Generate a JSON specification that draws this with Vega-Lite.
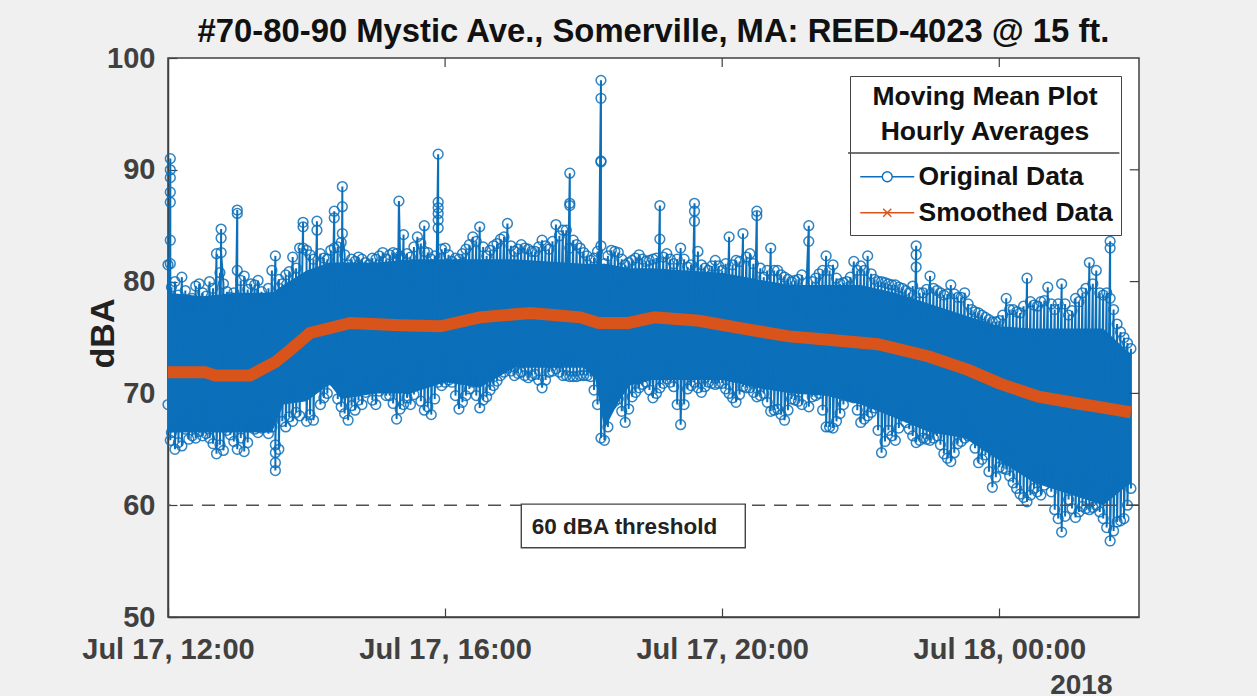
{"$schema":"https://vega.github.io/schema/vega-lite/v6.json","width":971,"height":559,"autosize":{"type":"none"},"padding":{"left":168,"top":58,"right":118,"bottom":79},"background":"#f0f0f0","view":{"fill":"white","stroke":"#404040","strokeWidth":1.5},
"title":{"text":"#70-80-90 Mystic Ave., Somerville, MA: REED-4023 @ 15 ft.","font":"Liberation Sans","fontSize":32.8,"fontWeight":"bold","color":"#111111","anchor":"middle","offset":-5},
"datasets":{
"core":[{"t":"2018-07-17T12:00","lo":66.5,"hi":79},{"t":"2018-07-17T12:30","lo":66.5,"hi":78.7},{"t":"2018-07-17T13:00","lo":66.5,"hi":79},{"t":"2018-07-17T13:30","lo":66.5,"hi":79},{"t":"2018-07-17T13:40","lo":69,"hi":79.7},{"t":"2018-07-17T14:00","lo":69.3,"hi":81},{"t":"2018-07-17T14:20","lo":70.8,"hi":81.7},{"t":"2018-07-17T14:30","lo":69.5,"hi":81.7},{"t":"2018-07-17T15:00","lo":70,"hi":81.7},{"t":"2018-07-17T15:30","lo":70,"hi":82},{"t":"2018-07-17T16:00","lo":71,"hi":82},{"t":"2018-07-17T16:30","lo":70.5,"hi":82},{"t":"2018-07-17T17:00","lo":72.3,"hi":82},{"t":"2018-07-17T18:00","lo":72.3,"hi":81.6},{"t":"2018-07-17T18:10","lo":71.3,"hi":81.6},{"t":"2018-07-17T18:18","lo":66.8,"hi":81.6},{"t":"2018-07-17T18:30","lo":69.2,"hi":81.4},{"t":"2018-07-17T18:40","lo":70.7,"hi":81.2},{"t":"2018-07-17T19:00","lo":71.2,"hi":81.2},{"t":"2018-07-17T20:00","lo":71.2,"hi":80.8},{"t":"2018-07-17T20:30","lo":70.5,"hi":80.2},{"t":"2018-07-17T21:00","lo":70,"hi":79.7},{"t":"2018-07-17T21:30","lo":69.8,"hi":79.7},{"t":"2018-07-17T22:00","lo":69,"hi":79.7},{"t":"2018-07-17T22:30","lo":67.8,"hi":79},{"t":"2018-07-17T23:00","lo":66.5,"hi":78},{"t":"2018-07-17T23:30","lo":66,"hi":77},{"t":"2018-07-18T00:00","lo":64,"hi":76},{"t":"2018-07-18T00:30","lo":62,"hi":75.8},{"t":"2018-07-18T01:00","lo":61,"hi":75.8},{"t":"2018-07-18T01:30","lo":60,"hi":75.8},{"t":"2018-07-18T01:54","lo":62,"hi":73.5}],
"orig":[{"t":"2018-07-17T12:00","v":81.5},{"t":"2018-07-17T12:00","v":69},{"t":"2018-07-17T12:02","v":91},{"t":"2018-07-17T12:02","v":90},{"t":"2018-07-17T12:02","v":89.3},{"t":"2018-07-17T12:02","v":88},{"t":"2018-07-17T12:02","v":87.1},{"t":"2018-07-17T12:02","v":83.7},{"t":"2018-07-17T12:02","v":81.6},{"t":"2018-07-17T12:02","v":65.8},{"t":"2018-07-17T12:06","v":80},{"t":"2018-07-17T12:06","v":65},{"t":"2018-07-17T12:12","v":80.4},{"t":"2018-07-17T12:12","v":65.3},{"t":"2018-07-17T12:18","v":78},{"t":"2018-07-17T12:18","v":65.9},{"t":"2018-07-17T12:24","v":79.6},{"t":"2018-07-17T12:24","v":66},{"t":"2018-07-17T12:30","v":79},{"t":"2018-07-17T12:30","v":66.2},{"t":"2018-07-17T12:36","v":80},{"t":"2018-07-17T12:36","v":66},{"t":"2018-07-17T12:42","v":82.5},{"t":"2018-07-17T12:42","v":64.6},{"t":"2018-07-17T12:46","v":84.7},{"t":"2018-07-17T12:46","v":83.9},{"t":"2018-07-17T12:46","v":82.6},{"t":"2018-07-17T12:48","v":79.8},{"t":"2018-07-17T12:48","v":64.9},{"t":"2018-07-17T12:54","v":78.6},{"t":"2018-07-17T12:54","v":66.3},{"t":"2018-07-17T13:00","v":86.4},{"t":"2018-07-17T13:00","v":86.1},{"t":"2018-07-17T13:00","v":81},{"t":"2018-07-17T13:00","v":65},{"t":"2018-07-17T13:06","v":80.5},{"t":"2018-07-17T13:06","v":64.8},{"t":"2018-07-17T13:12","v":79.8},{"t":"2018-07-17T13:12","v":67},{"t":"2018-07-17T13:18","v":80.1},{"t":"2018-07-17T13:18","v":66.5},{"t":"2018-07-17T13:24","v":78.5},{"t":"2018-07-17T13:24","v":67},{"t":"2018-07-17T13:30","v":81},{"t":"2018-07-17T13:30","v":67},{"t":"2018-07-17T13:33","v":82.3},{"t":"2018-07-17T13:33","v":63.1},{"t":"2018-07-17T13:33","v":63.8},{"t":"2018-07-17T13:33","v":64.7},{"t":"2018-07-17T13:33","v":65.4},{"t":"2018-07-17T13:36","v":80.2},{"t":"2018-07-17T13:36","v":65},{"t":"2018-07-17T13:42","v":80.6},{"t":"2018-07-17T13:42","v":67},{"t":"2018-07-17T13:48","v":82.2},{"t":"2018-07-17T13:48","v":67.5},{"t":"2018-07-17T13:54","v":83},{"t":"2018-07-17T13:54","v":68},{"t":"2018-07-17T13:57","v":85.3},{"t":"2018-07-17T13:57","v":84.9},{"t":"2018-07-17T13:57","v":83},{"t":"2018-07-17T14:00","v":82.8},{"t":"2018-07-17T14:00","v":67.5},{"t":"2018-07-17T14:06","v":82},{"t":"2018-07-17T14:06","v":67.6},{"t":"2018-07-17T14:09","v":85.4},{"t":"2018-07-17T14:09","v":84.6},{"t":"2018-07-17T14:09","v":71},{"t":"2018-07-17T14:12","v":82.5},{"t":"2018-07-17T14:12","v":69},{"t":"2018-07-17T14:18","v":82},{"t":"2018-07-17T14:18","v":70},{"t":"2018-07-17T14:24","v":86.3},{"t":"2018-07-17T14:24","v":85.7},{"t":"2018-07-17T14:24","v":83},{"t":"2018-07-17T14:24","v":71.5},{"t":"2018-07-17T14:30","v":83.5},{"t":"2018-07-17T14:30","v":68.8},{"t":"2018-07-17T14:31","v":88.5},{"t":"2018-07-17T14:31","v":86.7},{"t":"2018-07-17T14:31","v":84.3},{"t":"2018-07-17T14:36","v":81.5},{"t":"2018-07-17T14:36","v":67.6},{"t":"2018-07-17T14:42","v":81.8},{"t":"2018-07-17T14:42","v":68.5},{"t":"2018-07-17T14:48","v":82},{"t":"2018-07-17T14:48","v":69},{"t":"2018-07-17T14:54","v":81.5},{"t":"2018-07-17T14:54","v":70.5},{"t":"2018-07-17T15:00","v":82},{"t":"2018-07-17T15:00","v":69},{"t":"2018-07-17T15:06","v":82.6},{"t":"2018-07-17T15:06","v":70.8},{"t":"2018-07-17T15:12","v":82.4},{"t":"2018-07-17T15:12","v":69.8},{"t":"2018-07-17T15:18","v":82.5},{"t":"2018-07-17T15:18","v":67.7},{"t":"2018-07-17T15:20","v":87.2},{"t":"2018-07-17T15:24","v":84.2},{"t":"2018-07-17T15:24","v":69},{"t":"2018-07-17T15:30","v":82.2},{"t":"2018-07-17T15:30","v":69},{"t":"2018-07-17T15:36","v":84},{"t":"2018-07-17T15:36","v":70.8},{"t":"2018-07-17T15:42","v":85},{"t":"2018-07-17T15:42","v":82.7},{"t":"2018-07-17T15:42","v":68.5},{"t":"2018-07-17T15:48","v":82},{"t":"2018-07-17T15:48","v":68.1},{"t":"2018-07-17T15:54","v":91.4},{"t":"2018-07-17T15:54","v":87.1},{"t":"2018-07-17T15:54","v":86.6},{"t":"2018-07-17T15:54","v":86.1},{"t":"2018-07-17T15:54","v":85.5},{"t":"2018-07-17T15:54","v":84.8},{"t":"2018-07-17T15:54","v":71},{"t":"2018-07-17T16:00","v":83},{"t":"2018-07-17T16:00","v":71},{"t":"2018-07-17T16:06","v":81.8},{"t":"2018-07-17T16:06","v":71},{"t":"2018-07-17T16:12","v":82},{"t":"2018-07-17T16:12","v":68.6},{"t":"2018-07-17T16:18","v":82.9},{"t":"2018-07-17T16:18","v":69.8},{"t":"2018-07-17T16:24","v":84},{"t":"2018-07-17T16:24","v":71},{"t":"2018-07-17T16:30","v":84.9},{"t":"2018-07-17T16:30","v":68.7},{"t":"2018-07-17T16:36","v":82.3},{"t":"2018-07-17T16:36","v":69.7},{"t":"2018-07-17T16:42","v":83.2},{"t":"2018-07-17T16:42","v":70.7},{"t":"2018-07-17T16:48","v":83.8},{"t":"2018-07-17T16:48","v":71.6},{"t":"2018-07-17T16:54","v":85.2},{"t":"2018-07-17T16:54","v":72.3},{"t":"2018-07-17T17:00","v":82.7},{"t":"2018-07-17T17:00","v":71.6},{"t":"2018-07-17T17:06","v":83.3},{"t":"2018-07-17T17:06","v":71.9},{"t":"2018-07-17T17:12","v":82.9},{"t":"2018-07-17T17:12","v":71.4},{"t":"2018-07-17T17:18","v":82.7},{"t":"2018-07-17T17:18","v":71.7},{"t":"2018-07-17T17:24","v":83.7},{"t":"2018-07-17T17:24","v":70.5},{"t":"2018-07-17T17:30","v":82.9},{"t":"2018-07-17T17:30","v":71.9},{"t":"2018-07-17T17:36","v":85.1},{"t":"2018-07-17T17:36","v":72.2},{"t":"2018-07-17T17:42","v":84.6},{"t":"2018-07-17T17:42","v":71.6},{"t":"2018-07-17T17:48","v":89.7},{"t":"2018-07-17T17:48","v":87},{"t":"2018-07-17T17:48","v":86.8},{"t":"2018-07-17T17:48","v":83},{"t":"2018-07-17T17:48","v":71.5},{"t":"2018-07-17T17:54","v":83.3},{"t":"2018-07-17T17:54","v":71.5},{"t":"2018-07-17T18:00","v":82.6},{"t":"2018-07-17T18:00","v":71.6},{"t":"2018-07-17T18:06","v":81.9},{"t":"2018-07-17T18:06","v":71.5},{"t":"2018-07-17T18:12","v":82.7},{"t":"2018-07-17T18:12","v":69},{"t":"2018-07-17T18:15","v":98},{"t":"2018-07-17T18:15","v":96.4},{"t":"2018-07-17T18:15","v":90.8},{"t":"2018-07-17T18:15","v":90.7},{"t":"2018-07-17T18:15","v":83.2},{"t":"2018-07-17T18:15","v":66},{"t":"2018-07-17T18:18","v":81.6},{"t":"2018-07-17T18:18","v":65.8},{"t":"2018-07-17T18:24","v":82.8},{"t":"2018-07-17T18:24","v":69},{"t":"2018-07-17T18:30","v":82.6},{"t":"2018-07-17T18:30","v":69.5},{"t":"2018-07-17T18:36","v":81.5},{"t":"2018-07-17T18:36","v":67.4},{"t":"2018-07-17T18:42","v":81.9},{"t":"2018-07-17T18:42","v":69.7},{"t":"2018-07-17T18:48","v":82.4},{"t":"2018-07-17T18:48","v":70.5},{"t":"2018-07-17T18:54","v":81.8},{"t":"2018-07-17T18:54","v":71},{"t":"2018-07-17T19:00","v":82},{"t":"2018-07-17T19:00","v":69.6},{"t":"2018-07-17T19:06","v":86.8},{"t":"2018-07-17T19:06","v":83.8},{"t":"2018-07-17T19:06","v":70.5},{"t":"2018-07-17T19:12","v":82.5},{"t":"2018-07-17T19:12","v":71.3},{"t":"2018-07-17T19:18","v":81.6},{"t":"2018-07-17T19:18","v":70.6},{"t":"2018-07-17T19:24","v":83},{"t":"2018-07-17T19:24","v":67.2},{"t":"2018-07-17T19:30","v":81.3},{"t":"2018-07-17T19:30","v":70.4},{"t":"2018-07-17T19:36","v":87},{"t":"2018-07-17T19:36","v":86.3},{"t":"2018-07-17T19:36","v":85.4},{"t":"2018-07-17T19:36","v":71},{"t":"2018-07-17T19:42","v":81.5},{"t":"2018-07-17T19:42","v":70.1},{"t":"2018-07-17T19:48","v":81},{"t":"2018-07-17T19:48","v":71},{"t":"2018-07-17T19:54","v":81.9},{"t":"2018-07-17T19:54","v":70.8},{"t":"2018-07-17T20:00","v":81},{"t":"2018-07-17T20:00","v":70.9},{"t":"2018-07-17T20:06","v":84},{"t":"2018-07-17T20:06","v":70},{"t":"2018-07-17T20:12","v":81.9},{"t":"2018-07-17T20:12","v":69.2},{"t":"2018-07-17T20:18","v":84.3},{"t":"2018-07-17T20:18","v":70.6},{"t":"2018-07-17T20:24","v":82.5},{"t":"2018-07-17T20:24","v":70.5},{"t":"2018-07-17T20:30","v":86.3},{"t":"2018-07-17T20:30","v":85.9},{"t":"2018-07-17T20:30","v":69.7},{"t":"2018-07-17T20:36","v":80.4},{"t":"2018-07-17T20:36","v":70},{"t":"2018-07-17T20:42","v":83},{"t":"2018-07-17T20:42","v":68.4},{"t":"2018-07-17T20:48","v":81},{"t":"2018-07-17T20:48","v":68.6},{"t":"2018-07-17T20:54","v":80.4},{"t":"2018-07-17T20:54","v":67.6},{"t":"2018-07-17T21:00","v":80},{"t":"2018-07-17T21:00","v":69.5},{"t":"2018-07-17T21:06","v":80.2},{"t":"2018-07-17T21:06","v":69.3},{"t":"2018-07-17T21:15","v":85},{"t":"2018-07-17T21:15","v":83.6},{"t":"2018-07-17T21:15","v":68.8},{"t":"2018-07-17T21:18","v":80},{"t":"2018-07-17T21:18","v":69.7},{"t":"2018-07-17T21:24","v":80.7},{"t":"2018-07-17T21:24","v":70},{"t":"2018-07-17T21:30","v":82.3},{"t":"2018-07-17T21:30","v":67},{"t":"2018-07-17T21:36","v":81.5},{"t":"2018-07-17T21:36","v":66.9},{"t":"2018-07-17T21:42","v":79.8},{"t":"2018-07-17T21:42","v":68.2},{"t":"2018-07-17T21:48","v":80},{"t":"2018-07-17T21:48","v":69.9},{"t":"2018-07-17T21:54","v":81.8},{"t":"2018-07-17T21:54","v":69.6},{"t":"2018-07-17T22:00","v":81.4},{"t":"2018-07-17T22:00","v":67.4},{"t":"2018-07-17T22:06","v":82.3},{"t":"2018-07-17T22:06","v":68},{"t":"2018-07-17T22:12","v":80.2},{"t":"2018-07-17T22:12","v":68.7},{"t":"2018-07-17T22:18","v":80},{"t":"2018-07-17T22:18","v":64.7},{"t":"2018-07-17T22:24","v":79.8},{"t":"2018-07-17T22:24","v":66.7},{"t":"2018-07-17T22:30","v":79.7},{"t":"2018-07-17T22:30","v":65.8},{"t":"2018-07-17T22:36","v":79.4},{"t":"2018-07-17T22:36","v":68},{"t":"2018-07-17T22:42","v":79},{"t":"2018-07-17T22:42","v":66.8},{"t":"2018-07-17T22:48","v":83.2},{"t":"2018-07-17T22:48","v":82.4},{"t":"2018-07-17T22:48","v":81.3},{"t":"2018-07-17T22:48","v":65.6},{"t":"2018-07-17T22:54","v":79},{"t":"2018-07-17T22:54","v":66},{"t":"2018-07-17T23:00","v":80.5},{"t":"2018-07-17T23:00","v":65.8},{"t":"2018-07-17T23:06","v":79.2},{"t":"2018-07-17T23:06","v":66.2},{"t":"2018-07-17T23:12","v":78.8},{"t":"2018-07-17T23:12","v":64.6},{"t":"2018-07-17T23:18","v":79.7},{"t":"2018-07-17T23:18","v":63.9},{"t":"2018-07-17T23:24","v":78.6},{"t":"2018-07-17T23:24","v":65.5},{"t":"2018-07-17T23:30","v":79},{"t":"2018-07-17T23:30","v":66},{"t":"2018-07-17T23:36","v":77.5},{"t":"2018-07-17T23:36","v":66.5},{"t":"2018-07-17T23:42","v":77.2},{"t":"2018-07-17T23:42","v":63.8},{"t":"2018-07-17T23:48","v":76.8},{"t":"2018-07-17T23:48","v":64.5},{"t":"2018-07-17T23:54","v":76.4},{"t":"2018-07-17T23:54","v":61.6},{"t":"2018-07-18T00:00","v":76.5},{"t":"2018-07-18T00:00","v":63.4},{"t":"2018-07-18T00:06","v":78.5},{"t":"2018-07-18T00:06","v":63.2},{"t":"2018-07-18T00:12","v":77.5},{"t":"2018-07-18T00:12","v":62},{"t":"2018-07-18T00:18","v":77.2},{"t":"2018-07-18T00:18","v":61},{"t":"2018-07-18T00:24","v":80.3},{"t":"2018-07-18T00:24","v":60.3},{"t":"2018-07-18T00:30","v":77.9},{"t":"2018-07-18T00:30","v":61.5},{"t":"2018-07-18T00:36","v":78.2},{"t":"2018-07-18T00:36","v":60.9},{"t":"2018-07-18T00:42","v":79.5},{"t":"2018-07-18T00:42","v":62.8},{"t":"2018-07-18T00:48","v":77.5},{"t":"2018-07-18T00:48","v":59.6},{"t":"2018-07-18T00:54","v":79.8},{"t":"2018-07-18T00:54","v":57.6},{"t":"2018-07-18T01:00","v":77},{"t":"2018-07-18T01:00","v":60.5},{"t":"2018-07-18T01:06","v":78.5},{"t":"2018-07-18T01:06","v":58.9},{"t":"2018-07-18T01:12","v":79},{"t":"2018-07-18T01:12","v":59.9},{"t":"2018-07-18T01:18","v":81.7},{"t":"2018-07-18T01:18","v":59.6},{"t":"2018-07-18T01:24","v":81},{"t":"2018-07-18T01:24","v":60},{"t":"2018-07-18T01:30","v":78.8},{"t":"2018-07-18T01:30","v":58.8},{"t":"2018-07-18T01:36","v":83.6},{"t":"2018-07-18T01:36","v":83},{"t":"2018-07-18T01:36","v":78.5},{"t":"2018-07-18T01:36","v":56.8},{"t":"2018-07-18T01:42","v":76.2},{"t":"2018-07-18T01:42","v":58.5},{"t":"2018-07-18T01:48","v":75},{"t":"2018-07-18T01:48","v":58.8},{"t":"2018-07-18T01:54","v":74},{"t":"2018-07-18T01:54","v":61.5},
{"t":"2018-07-17T12:03","v":79.5},{"t":"2018-07-17T12:03","v":66.5},{"t":"2018-07-17T12:09","v":78.8},{"t":"2018-07-17T12:09","v":65.6},{"t":"2018-07-17T12:15","v":79.2},{"t":"2018-07-17T12:15","v":66.8},{"t":"2018-07-17T12:21","v":78.5},{"t":"2018-07-17T12:21","v":66.2},{"t":"2018-07-17T12:27","v":79.8},{"t":"2018-07-17T12:27","v":66.6},{"t":"2018-07-17T12:33","v":78.7},{"t":"2018-07-17T12:33","v":66.4},{"t":"2018-07-17T12:39","v":79.4},{"t":"2018-07-17T12:39","v":65.5},{"t":"2018-07-17T12:45","v":80.8},{"t":"2018-07-17T12:45","v":65.4},{"t":"2018-07-17T12:51","v":79.1},{"t":"2018-07-17T12:51","v":66.7},{"t":"2018-07-17T12:57","v":79},{"t":"2018-07-17T12:57","v":65.7},{"t":"2018-07-17T13:03","v":80.1},{"t":"2018-07-17T13:03","v":66},{"t":"2018-07-17T13:09","v":79.3},{"t":"2018-07-17T13:09","v":65.6},{"t":"2018-07-17T13:15","v":79.7},{"t":"2018-07-17T13:15","v":66.8},{"t":"2018-07-17T13:21","v":79.1},{"t":"2018-07-17T13:21","v":66.9},{"t":"2018-07-17T13:27","v":79.4},{"t":"2018-07-17T13:27","v":66.4},{"t":"2018-07-17T13:39","v":79.8},{"t":"2018-07-17T13:39","v":67.5},{"t":"2018-07-17T13:45","v":80.9},{"t":"2018-07-17T13:45","v":67.9},{"t":"2018-07-17T13:51","v":81.2},{"t":"2018-07-17T13:51","v":68.3},{"t":"2018-07-17T14:03","v":82.4},{"t":"2018-07-17T14:03","v":68.1},{"t":"2018-07-17T14:15","v":82.1},{"t":"2018-07-17T14:15","v":69.6},{"t":"2018-07-17T14:21","v":82.8},{"t":"2018-07-17T14:21","v":71.2},{"t":"2018-07-17T14:27","v":83.1},{"t":"2018-07-17T14:27","v":69.5},{"t":"2018-07-17T14:33","v":82.4},{"t":"2018-07-17T14:33","v":68.2},{"t":"2018-07-17T14:39","v":82},{"t":"2018-07-17T14:39","v":68.9},{"t":"2018-07-17T14:45","v":82.2},{"t":"2018-07-17T14:45","v":69.4},{"t":"2018-07-17T14:51","v":81.7},{"t":"2018-07-17T14:51","v":70.1},{"t":"2018-07-17T14:57","v":82.1},{"t":"2018-07-17T14:57","v":69.4},{"t":"2018-07-17T15:03","v":82.3},{"t":"2018-07-17T15:03","v":70.2},{"t":"2018-07-17T15:09","v":82},{"t":"2018-07-17T15:09","v":69.8},{"t":"2018-07-17T15:15","v":82.6},{"t":"2018-07-17T15:15","v":69.1},{"t":"2018-07-17T15:21","v":82.3},{"t":"2018-07-17T15:21","v":68.6},{"t":"2018-07-17T15:27","v":82.5},{"t":"2018-07-17T15:27","v":69.6},{"t":"2018-07-17T15:33","v":83.1},{"t":"2018-07-17T15:33","v":69.9},{"t":"2018-07-17T15:39","v":83.4},{"t":"2018-07-17T15:39","v":69.3},{"t":"2018-07-17T15:45","v":82.6},{"t":"2018-07-17T15:45","v":68.8},{"t":"2018-07-17T15:51","v":82.3},{"t":"2018-07-17T15:51","v":69.5},{"t":"2018-07-17T15:57","v":82.9},{"t":"2018-07-17T15:57","v":70.7},{"t":"2018-07-17T16:03","v":82.4},{"t":"2018-07-17T16:03","v":71.2},{"t":"2018-07-17T16:09","v":82.1},{"t":"2018-07-17T16:09","v":69.8},{"t":"2018-07-17T16:15","v":82.5},{"t":"2018-07-17T16:15","v":69.2},{"t":"2018-07-17T16:21","v":83.3},{"t":"2018-07-17T16:21","v":70.4},{"t":"2018-07-17T16:27","v":83.6},{"t":"2018-07-17T16:27","v":69.8},{"t":"2018-07-17T16:33","v":83.1},{"t":"2018-07-17T16:33","v":69.4},{"t":"2018-07-17T16:39","v":82.8},{"t":"2018-07-17T16:39","v":70.3},{"t":"2018-07-17T16:45","v":83.4},{"t":"2018-07-17T16:45","v":71.1},{"t":"2018-07-17T16:51","v":84},{"t":"2018-07-17T16:51","v":71.9},{"t":"2018-07-17T16:57","v":83.2},{"t":"2018-07-17T16:57","v":72},{"t":"2018-07-17T17:03","v":82.9},{"t":"2018-07-17T17:03","v":71.8},{"t":"2018-07-17T17:09","v":83},{"t":"2018-07-17T17:09","v":71.6},{"t":"2018-07-17T17:15","v":82.7},{"t":"2018-07-17T17:15","v":71.6},{"t":"2018-07-17T17:21","v":83.1},{"t":"2018-07-17T17:21","v":71.2},{"t":"2018-07-17T17:27","v":83.2},{"t":"2018-07-17T17:27","v":71.2},{"t":"2018-07-17T17:33","v":83.6},{"t":"2018-07-17T17:33","v":72},{"t":"2018-07-17T17:39","v":84.1},{"t":"2018-07-17T17:39","v":71.9},{"t":"2018-07-17T17:45","v":84.6},{"t":"2018-07-17T17:45","v":71.6},{"t":"2018-07-17T17:51","v":83.7},{"t":"2018-07-17T17:51","v":71.5},{"t":"2018-07-17T17:57","v":83},{"t":"2018-07-17T17:57","v":71.6},{"t":"2018-07-17T18:03","v":82.3},{"t":"2018-07-17T18:03","v":71.6},{"t":"2018-07-17T18:09","v":82.1},{"t":"2018-07-17T18:09","v":70.3},{"t":"2018-07-17T18:21","v":82.3},{"t":"2018-07-17T18:21","v":67},{"t":"2018-07-17T18:27","v":82.7},{"t":"2018-07-17T18:27","v":69.3},{"t":"2018-07-17T18:33","v":82},{"t":"2018-07-17T18:33","v":68.4},{"t":"2018-07-17T18:39","v":81.7},{"t":"2018-07-17T18:39","v":68.6},{"t":"2018-07-17T18:45","v":82.1},{"t":"2018-07-17T18:45","v":70.1},{"t":"2018-07-17T18:51","v":82},{"t":"2018-07-17T18:51","v":70.8},{"t":"2018-07-17T18:57","v":81.9},{"t":"2018-07-17T18:57","v":70.3},{"t":"2018-07-17T19:03","v":82.1},{"t":"2018-07-17T19:03","v":70},{"t":"2018-07-17T19:09","v":82.2},{"t":"2018-07-17T19:09","v":70.9},{"t":"2018-07-17T19:15","v":82},{"t":"2018-07-17T19:15","v":71},{"t":"2018-07-17T19:21","v":82},{"t":"2018-07-17T19:21","v":69},{"t":"2018-07-17T19:27","v":82},{"t":"2018-07-17T19:27","v":69},{"t":"2018-07-17T19:33","v":81.5},{"t":"2018-07-17T19:33","v":70.7},{"t":"2018-07-17T19:39","v":82.7},{"t":"2018-07-17T19:39","v":70.5},{"t":"2018-07-17T19:45","v":81.2},{"t":"2018-07-17T19:45","v":70.6},{"t":"2018-07-17T19:51","v":81.4},{"t":"2018-07-17T19:51","v":70.9},{"t":"2018-07-17T19:57","v":81.4},{"t":"2018-07-17T19:57","v":70.9},{"t":"2018-07-17T20:03","v":81.6},{"t":"2018-07-17T20:03","v":70.4},{"t":"2018-07-17T20:09","v":81.5},{"t":"2018-07-17T20:09","v":69.6},{"t":"2018-07-17T20:15","v":81.8},{"t":"2018-07-17T20:15","v":69.9},{"t":"2018-07-17T20:21","v":82.2},{"t":"2018-07-17T20:21","v":70.5},{"t":"2018-07-17T20:27","v":81.6},{"t":"2018-07-17T20:27","v":70.1},{"t":"2018-07-17T20:33","v":81.2},{"t":"2018-07-17T20:33","v":69.8},{"t":"2018-07-17T20:39","v":81},{"t":"2018-07-17T20:39","v":69.2},{"t":"2018-07-17T20:45","v":81},{"t":"2018-07-17T20:45","v":68.5},{"t":"2018-07-17T20:51","v":80.6},{"t":"2018-07-17T20:51","v":68.1},{"t":"2018-07-17T20:57","v":80.2},{"t":"2018-07-17T20:57","v":68.5},{"t":"2018-07-17T21:03","v":80.1},{"t":"2018-07-17T21:03","v":69.4},{"t":"2018-07-17T21:09","v":80.6},{"t":"2018-07-17T21:09","v":69},{"t":"2018-07-17T21:21","v":80.3},{"t":"2018-07-17T21:21","v":69.8},{"t":"2018-07-17T21:27","v":81},{"t":"2018-07-17T21:27","v":68.5},{"t":"2018-07-17T21:33","v":81},{"t":"2018-07-17T21:33","v":67},{"t":"2018-07-17T21:39","v":80.3},{"t":"2018-07-17T21:39","v":67.5},{"t":"2018-07-17T21:45","v":79.9},{"t":"2018-07-17T21:45","v":69},{"t":"2018-07-17T21:51","v":80.4},{"t":"2018-07-17T21:51","v":69.7},{"t":"2018-07-17T21:57","v":81},{"t":"2018-07-17T21:57","v":68.5},{"t":"2018-07-17T22:03","v":81},{"t":"2018-07-17T22:03","v":67.7},{"t":"2018-07-17T22:09","v":80.7},{"t":"2018-07-17T22:09","v":68.3},{"t":"2018-07-17T22:15","v":80},{"t":"2018-07-17T22:15","v":66.7},{"t":"2018-07-17T22:21","v":79.9},{"t":"2018-07-17T22:21","v":65.7},{"t":"2018-07-17T22:27","v":79.7},{"t":"2018-07-17T22:27","v":66.2},{"t":"2018-07-17T22:33","v":79.5},{"t":"2018-07-17T22:33","v":66.9},{"t":"2018-07-17T22:39","v":79.2},{"t":"2018-07-17T22:39","v":67.4},{"t":"2018-07-17T22:45","v":79.6},{"t":"2018-07-17T22:45","v":66.2},{"t":"2018-07-17T22:51","v":79},{"t":"2018-07-17T22:51","v":65.8},{"t":"2018-07-17T22:57","v":79.3},{"t":"2018-07-17T22:57","v":65.9},{"t":"2018-07-17T23:03","v":79.4},{"t":"2018-07-17T23:03","v":66},{"t":"2018-07-17T23:09","v":79},{"t":"2018-07-17T23:09","v":65.4},{"t":"2018-07-17T23:15","v":78.9},{"t":"2018-07-17T23:15","v":64.2},{"t":"2018-07-17T23:21","v":78.9},{"t":"2018-07-17T23:21","v":64.7},{"t":"2018-07-17T23:27","v":78.6},{"t":"2018-07-17T23:27","v":65.7},{"t":"2018-07-17T23:33","v":78},{"t":"2018-07-17T23:33","v":66.2},{"t":"2018-07-17T23:39","v":77.3},{"t":"2018-07-17T23:39","v":65.1},{"t":"2018-07-17T23:45","v":77},{"t":"2018-07-17T23:45","v":64.1},{"t":"2018-07-17T23:51","v":76.6},{"t":"2018-07-17T23:51","v":63},{"t":"2018-07-17T23:57","v":76.4},{"t":"2018-07-17T23:57","v":62.5},{"t":"2018-07-18T00:03","v":77},{"t":"2018-07-18T00:03","v":63.3},{"t":"2018-07-18T00:09","v":77.5},{"t":"2018-07-18T00:09","v":62.6},{"t":"2018-07-18T00:15","v":77.3},{"t":"2018-07-18T00:15","v":61.5},{"t":"2018-07-18T00:21","v":77.8},{"t":"2018-07-18T00:21","v":60.7},{"t":"2018-07-18T00:27","v":78.2},{"t":"2018-07-18T00:27","v":60.9},{"t":"2018-07-18T00:33","v":77.8},{"t":"2018-07-18T00:33","v":61.2},{"t":"2018-07-18T00:39","v":78.3},{"t":"2018-07-18T00:39","v":61.8},{"t":"2018-07-18T00:45","v":78},{"t":"2018-07-18T00:45","v":61.2},{"t":"2018-07-18T00:51","v":78},{"t":"2018-07-18T00:51","v":58.8},{"t":"2018-07-18T00:57","v":78},{"t":"2018-07-18T00:57","v":59},{"t":"2018-07-18T01:03","v":77.4},{"t":"2018-07-18T01:03","v":59.7},{"t":"2018-07-18T01:09","v":78.2},{"t":"2018-07-18T01:09","v":59.4},{"t":"2018-07-18T01:15","v":79.4},{"t":"2018-07-18T01:15","v":59.7},{"t":"2018-07-18T01:21","v":79.8},{"t":"2018-07-18T01:21","v":59.8},{"t":"2018-07-18T01:27","v":79},{"t":"2018-07-18T01:27","v":59.4},{"t":"2018-07-18T01:33","v":79},{"t":"2018-07-18T01:33","v":58},{"t":"2018-07-18T01:39","v":77.5},{"t":"2018-07-18T01:39","v":57.7},{"t":"2018-07-18T01:45","v":75.5},{"t":"2018-07-18T01:45","v":58.6},{"t":"2018-07-18T01:51","v":74.5},{"t":"2018-07-18T01:51","v":60}],
"smooth":[{"t":"2018-07-17T12:00","v":71.9},{"t":"2018-07-17T12:32","v":71.9},{"t":"2018-07-17T12:41","v":71.6},{"t":"2018-07-17T13:11","v":71.6},{"t":"2018-07-17T13:33","v":72.8},{"t":"2018-07-17T13:46","v":73.9},{"t":"2018-07-17T14:03","v":75.4},{"t":"2018-07-17T14:38","v":76.3},{"t":"2018-07-17T15:21","v":76.1},{"t":"2018-07-17T15:56","v":76},{"t":"2018-07-17T16:30","v":76.8},{"t":"2018-07-17T17:14","v":77.2},{"t":"2018-07-17T17:57","v":76.8},{"t":"2018-07-17T18:13","v":76.3},{"t":"2018-07-17T18:39","v":76.3},{"t":"2018-07-17T19:01","v":76.8},{"t":"2018-07-17T19:40","v":76.5},{"t":"2018-07-17T20:23","v":75.7},{"t":"2018-07-17T20:58","v":75.1},{"t":"2018-07-17T21:32","v":74.8},{"t":"2018-07-17T22:15","v":74.4},{"t":"2018-07-17T22:59","v":73.3},{"t":"2018-07-17T23:33","v":72.1},{"t":"2018-07-18T00:00","v":70.9},{"t":"2018-07-18T00:34","v":69.7},{"t":"2018-07-18T01:08","v":69.1},{"t":"2018-07-18T01:26","v":68.8},{"t":"2018-07-18T01:54","v":68.3}],
"threshold":[{"v":60}],
"divider":[{"a":"2018-07-17T21:49","b":"2018-07-18T01:44","v":91.5}],
"topticks":[{"t":"2018-07-17T16:00","lo":99.2,"hi":100},{"t":"2018-07-17T20:00","lo":99.2,"hi":100},{"t":"2018-07-18T00:00","lo":99.2,"hi":100}],
"rightticks":[{"a":"2018-07-18T01:53","b":"2018-07-18T02:01","v":60},{"a":"2018-07-18T01:53","b":"2018-07-18T02:01","v":70},{"a":"2018-07-18T01:53","b":"2018-07-18T02:01","v":80},{"a":"2018-07-18T01:53","b":"2018-07-18T02:01","v":90}],
"note":[{"a":"2018-07-17T17:06","b":"2018-07-17T20:20","lo":56.2,"hi":60.1,"tx":"2018-07-17T17:15","ty":58.05,"label":"60 dBA threshold"}]
},
"layer":[
{"data":{"name":"core"},"mark":{"type":"area","opacity":1},"encoding":{"x":{"field":"t","type":"temporal"},"y":{"field":"lo","type":"quantitative"},"y2":{"field":"hi"},"color":{"datum":"Original Data"}}},
{"data":{"name":"orig"},"mark":{"type":"line","strokeWidth":2,"interpolate":"linear"},"encoding":{"x":{"field":"t","type":"temporal"},"y":{"field":"v","type":"quantitative"},"color":{"datum":"Original Data"}}},
{"data":{"name":"orig"},"mark":{"type":"point","filled":false,"size":95,"strokeWidth":1.5,"opacity":0.85},"encoding":{"x":{"field":"t","type":"temporal"},"y":{"field":"v","type":"quantitative"},"color":{"datum":"Original Data"}}},
{"data":{"name":"smooth"},"mark":{"type":"line","strokeWidth":12},"encoding":{"x":{"field":"t","type":"temporal","title":"2018","scale":{"domain":[{"year":2018,"month":7,"date":17,"hours":12},{"year":2018,"month":7,"date":18,"hours":2,"minutes":1}]},"axis":{"format":"%b %d, %H:%M","values":[{"year":2018,"month":7,"date":17,"hours":12},{"year":2018,"month":7,"date":17,"hours":16},{"year":2018,"month":7,"date":17,"hours":20},{"year":2018,"month":7,"date":18,"hours":0}],"grid":false,"tickSize":-9,"tickColor":"#404040","domainColor":"#404040","domainWidth":1.5,"tickWidth":1.2,"labelFont":"Liberation Sans","labelFontWeight":"bold","labelFontSize":29,"labelColor":"#404040","labelPadding":27,"labelFlush":false,"labelOverlap":false,"titleFont":"Liberation Sans","titleFontWeight":"bold","titleFontSize":28,"titleColor":"#404040","titleX":944,"titleY":76,"titleAlign":"right","titleBaseline":"alphabetic"}},"y":{"field":"v","type":"quantitative","title":"dBA","scale":{"domain":[50,100],"zero":false,"nice":false},"axis":{"values":[50,60,70,80,90,100],"grid":false,"tickSize":-9,"tickColor":"#404040","domainColor":"#404040","domainWidth":1.5,"tickWidth":1.2,"labelFont":"Liberation Sans","labelFontWeight":"bold","labelFontSize":29,"labelColor":"#404040","labelPadding":22,"titleFont":"Liberation Sans","titleFontWeight":"bold","titleFontSize":34,"titleColor":"#222222","titleX":-48,"titleY":275}},"color":{"datum":"Smoothed Data","scale":{"domain":["Original Data","Smoothed Data"],"range":["#0b6fba","#d9541a"]},"legend":{"orient":"none","legendX":682,"legendY":18,"title":["Moving Mean Plot","Hourly Averages"],"titleFont":"Liberation Sans","titleFontWeight":"bold","titleFontSize":26.5,"titleColor":"#111111","titleLimit":400,"titleLineHeight":35,"titleAlign":"center","titleAnchor":"middle","titlePadding":18,"labelFont":"Liberation Sans","labelFontWeight":"bold","labelFontSize":26.5,"labelColor":"#111111","labelLimit":300,"labelOffset":18,"symbolSize":324,"symbolOffset":16,"rowPadding":9,"padding":8,"strokeColor":"#444444","encode":{"symbols":{"update":{"shape":{"signal":"datum.value == 'Original Data' ? 'M-3,0L-0.55,0M0.55,0L3,0M-0.55,0A0.55,0.55 0 1,0 0.55,0A0.55,0.55 0 1,0 -0.55,0Z' : 'M-3,0L3,0M-0.45,-0.45L0.45,0.45M-0.45,0.45L0.45,-0.45'"},"fillOpacity":{"value":0},"strokeWidth":{"value":1.4},"opacity":{"value":1}}}}}}}},
{"data":{"name":"threshold"},"mark":{"type":"rule","stroke":"#505050","strokeWidth":1.6,"strokeDash":[13,9]},"encoding":{"y":{"field":"v","type":"quantitative"}}},
{"data":{"name":"divider"},"mark":{"type":"rule","stroke":"#444444","strokeWidth":1.4},"encoding":{"x":{"field":"a","type":"temporal"},"x2":{"field":"b"},"y":{"field":"v","type":"quantitative"}}},
{"data":{"name":"topticks"},"mark":{"type":"rule","stroke":"#404040","strokeWidth":1.2},"encoding":{"x":{"field":"t","type":"temporal"},"y":{"field":"lo","type":"quantitative"},"y2":{"field":"hi"}}},
{"data":{"name":"rightticks"},"mark":{"type":"rule","stroke":"#404040","strokeWidth":1.2},"encoding":{"x":{"field":"a","type":"temporal"},"x2":{"field":"b"},"y":{"field":"v","type":"quantitative"}}},
{"data":{"name":"note"},"mark":{"type":"rect","fill":"white","stroke":"#444444","strokeWidth":1.4},"encoding":{"x":{"field":"a","type":"temporal"},"x2":{"field":"b"},"y":{"field":"lo","type":"quantitative"},"y2":{"field":"hi"}}},
{"data":{"name":"note"},"mark":{"type":"text","align":"left","baseline":"middle","font":"Liberation Sans","fontWeight":"bold","fontSize":22.5,"color":"#222222"},"encoding":{"x":{"field":"tx","type":"temporal"},"y":{"field":"ty","type":"quantitative"},"text":{"field":"label"}}}
]
}
